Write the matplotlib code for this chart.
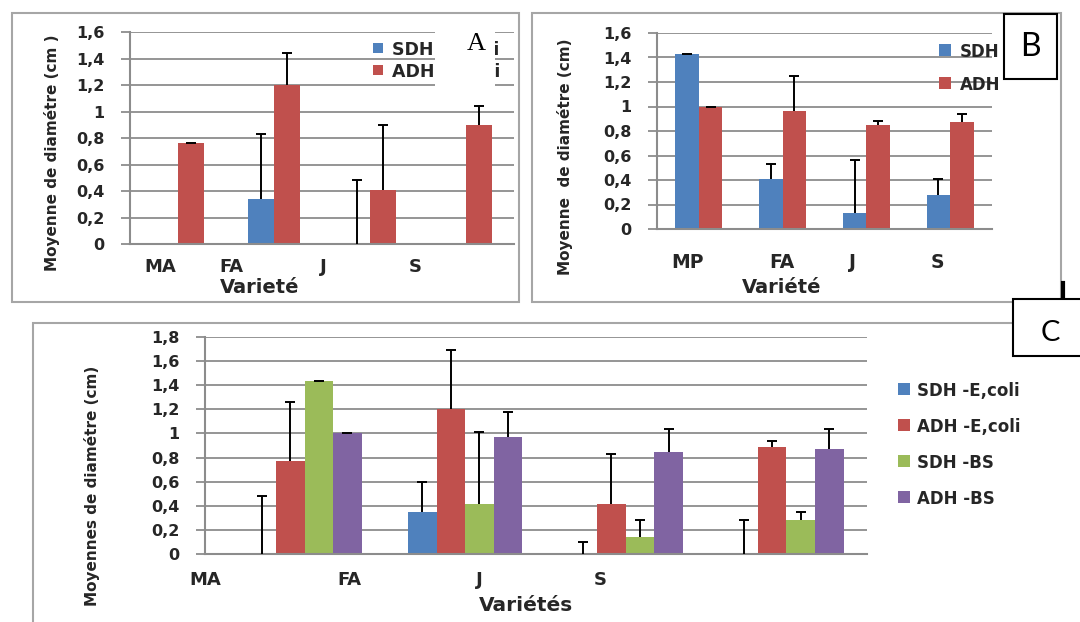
import numpy as np
import matplotlib
matplotlib.use("Agg")
import matplotlib.pyplot as plt
from matplotlib.patches import Rectangle
from matplotlib.lines import Line2D

# ---------------- data ----------------
varieties_a = ["MA", "FA", "J", "S"]
varieties_b = ["MP", "FA", "J", "S"]
varieties_c = ["MA", "FA", "J", "S"]

yticks_16 = ["0", "0,2", "0,4", "0,6", "0,8", "1", "1,2", "1,4", "1,6"]
yticks_18 = ["0", "0,2", "0,4", "0,6", "0,8", "1", "1,2", "1,4", "1,6", "1,8"]

# panel A : E. coli
a_labels = ["SDH -E,coli", "ADH -E,coli"]
a_sdh = [0.0, 0.34, 0.0, 0.0]
a_sdh_err = [np.nan, 0.49, 0.48, np.nan]
a_adh = [0.76, 1.20, 0.41, 0.90]
a_adh_err = [0.0, 0.24, 0.49, 0.14]

# panel B : B. subtilis
b_labels = ["SDH", "ADH"]
b_sdh = [1.43, 0.41, 0.13, 0.28]
b_sdh_err = [0.0, 0.12, 0.43, 0.13]
b_adh = [1.00, 0.96, 0.85, 0.87]
b_adh_err = [0.0, 0.29, 0.03, 0.07]

# panel C : both
c_labels = ["SDH -E,coli", "ADH -E,coli", "SDH -BS", "ADH -BS"]
c_sdh_ecoli = [0.0, 0.35, 0.0, 0.0]
c_sdh_ecoli_err = [0.48, 0.25, 0.10, 0.28]
c_adh_ecoli = [0.77, 1.20, 0.42, 0.89]
c_adh_ecoli_err = [0.49, 0.49, 0.41, 0.05]
c_sdh_bs = [1.43, 0.42, 0.14, 0.28]
c_sdh_bs_err = [0.0, 0.59, 0.14, 0.07]
c_adh_bs = [1.00, 0.97, 0.85, 0.87]
c_adh_bs_err = [0.0, 0.21, 0.19, 0.17]

# ---------------- style ----------------
BLUE, RED, GREEN, PURPLE = "#4F81BD", "#C0504D", "#9BBB59", "#8064A2"
GRID = "#8C8C8C"
FRAME = "#A6A6A6"
TEXT = "#262626"

W, H = 1080, 622
fig = plt.figure(figsize=(W / 100, H / 100), dpi=100)
fig.patch.set_facecolor("white")


def fx(x):
    return x / W


def fy(y):
    return 1 - y / H


def axes_px(left, top, right, bottom):
    return fig.add_axes([fx(left), fy(bottom), (right - left) / W, (bottom - top) / H])


def style_axes(ax, ytick_labels, cat_pos, cats, xpad, xsize):
    ax.set_xlim(-0.5, 3.5)
    ymax = 0.2 * (len(ytick_labels) - 1)
    ax.set_ylim(0, ymax)
    ax.set_yticks(np.arange(len(ytick_labels)) * 0.2)
    ax.set_yticklabels(ytick_labels, fontsize=11.5, fontweight="bold", color=TEXT)
    ax.yaxis.grid(True, color=GRID, lw=1.3)
    ax.set_axisbelow(True)
    ax.tick_params(axis="y", length=6.5, width=1.3, color=GRID, pad=12)
    ax.set_xticks(cat_pos)
    ax.set_xticklabels(cats, fontsize=xsize, fontweight="bold", color=TEXT)
    ax.tick_params(axis="x", length=0, pad=xpad)
    for s in ("top", "right"):
        ax.spines[s].set_visible(False)
    for s in ("left", "bottom"):
        ax.spines[s].set_color(GRID)
        ax.spines[s].set_linewidth(1.5)


def bars_with_err(ax, x, vals, errs, color, width):
    ax.bar(x, vals, width=width, color=color, zorder=2)
    errs = np.asarray(errs, dtype=float)
    _, caps, _ = ax.errorbar(x, vals, yerr=[np.zeros_like(errs), errs], fmt="none",
                             ecolor="black", elinewidth=1.4, capsize=3.5,
                             capthick=1.4, zorder=3)
    # one-sided (plus) error bars: keep only the upper cap
    caps[0].set_visible(False)


def legend_px(labels, colors, xm, rows, size, xt, fontsize):
    for lab, col, y in zip(labels, colors, rows):
        fig.add_artist(Rectangle((fx(xm - size / 2), fy(y + size / 2)), size / W, size / H,
                                 transform=fig.transFigure, color=col, lw=0, zorder=4))
        fig.text(fx(xt), fy(y), lab, ha="left", va="center_baseline", fontsize=fontsize,
                 fontweight="bold", color=TEXT, zorder=4)


def frame_px(left, top, right, bottom, **kw):
    fig.add_artist(Rectangle((fx(left), fy(bottom)), (right - left) / W, (bottom - top) / H,
                             transform=fig.transFigure, **kw))


x = np.arange(4)

# ---------------- panel A ----------------
frame_px(12, 13, 519, 302, fill=False, edgecolor=FRAME, lw=1.5, zorder=1)
axA = axes_px(130, 32, 514, 244)
wA = 0.276
bars_with_err(axA, x - wA / 2, a_sdh, a_sdh_err, BLUE, wA)
bars_with_err(axA, x + wA / 2, a_adh, a_adh_err, RED, wA)
style_axes(axA, yticks_16, [-0.18, 0.56, 1.51, 2.47], varieties_a, 10, 13)
fig.text(fx(52), fy(153), "Moyenne de diamétre (cm )", rotation=90, ha="center", va="center",
         fontsize=11, fontweight="bold", color=TEXT)
fig.text(fx(260), fy(293), "Varieté", ha="center", va="baseline", fontsize=14,
         fontweight="bold", color=TEXT)
legend_px(a_labels, [BLUE, RED], 378, [48, 70], 10, 392, 12.5)
frame_px(435, 22, 495, 96, facecolor="white", edgecolor="none", zorder=6)
fig.text(fx(476), fy(44), "A", ha="center", va="center", fontsize=19,
         family="Liberation Serif", color="black", zorder=7)

# ---------------- panel B ----------------
frame_px(532, 13, 1061, 302, fill=False, edgecolor=FRAME, lw=1.5, zorder=1)
axB = axes_px(657, 33, 992, 229)
wB = 0.28
bars_with_err(axB, x - wB / 2, b_sdh, b_sdh_err, BLUE, wB)
bars_with_err(axB, x + wB / 2, b_adh, b_adh_err, RED, wB)
style_axes(axB, yticks_16, [-0.14, 0.99, 1.84, 2.85], varieties_b, 17, 13.5)
fig.text(fx(565), fy(157), "Moyenne  de diamétre (cm)", rotation=90, ha="center", va="center",
         fontsize=11, fontweight="bold", color=TEXT)
fig.text(fx(782), fy(293), "Variété", ha="center", va="baseline", fontsize=14,
         fontweight="bold", color=TEXT)
legend_px(b_labels, [BLUE, RED], 945, [50, 83], 12, 960, 12)
frame_px(1004, 14, 1057, 79, facecolor="white", edgecolor="black", lw=1.5, zorder=6)
fig.text(fx(1030.5), fy(47), "B", ha="center", va="center", fontsize=23,
         family="Lato", color="black", zorder=7)

# ---------------- panel C ----------------
frame_px(33, 323, 1150, 700, fill=False, edgecolor=FRAME, lw=1.5, zorder=1)
axC = axes_px(205, 336.7, 866.7, 554.3)
wC = 0.178
c_series = [(c_sdh_ecoli, c_sdh_ecoli_err, BLUE), (c_adh_ecoli, c_adh_ecoli_err, RED),
            (c_sdh_bs, c_sdh_bs_err, GREEN), (c_adh_bs, c_adh_bs_err, PURPLE)]
for k, (vals, errs, col) in enumerate(c_series):
    bars_with_err(axC, x + (k - 1.5) * wC, vals, errs, col, wC)
style_axes(axC, yticks_18, [-0.62, 0.28, 1.09, 1.84], varieties_c, 12, 13)
fig.text(fx(91.5), fy(486), "Moyennes de diamétre (cm)", rotation=90, ha="center", va="center",
         fontsize=11, fontweight="bold", color=TEXT)
fig.text(fx(526), fy(611), "Variétés", ha="center", va="baseline", fontsize=14.5,
         fontweight="bold", color=TEXT)
legend_px(c_labels, [BLUE, RED, GREEN, PURPLE], 904, [389, 425, 461, 497], 12, 917, 12)

fig.add_artist(Line2D([fx(1063), fx(1063)], [fy(283), fy(299)], transform=fig.transFigure,
                      color="black", lw=3, zorder=6))
frame_px(1013, 299, 1100, 356, facecolor="white", edgecolor="black", lw=1.5, zorder=6)
fig.text(fx(1050), fy(333), "C", ha="center", va="center", fontsize=21,
         family="Lato", color="black", zorder=7)

fig.savefig("out.png", dpi=100, facecolor="white")
